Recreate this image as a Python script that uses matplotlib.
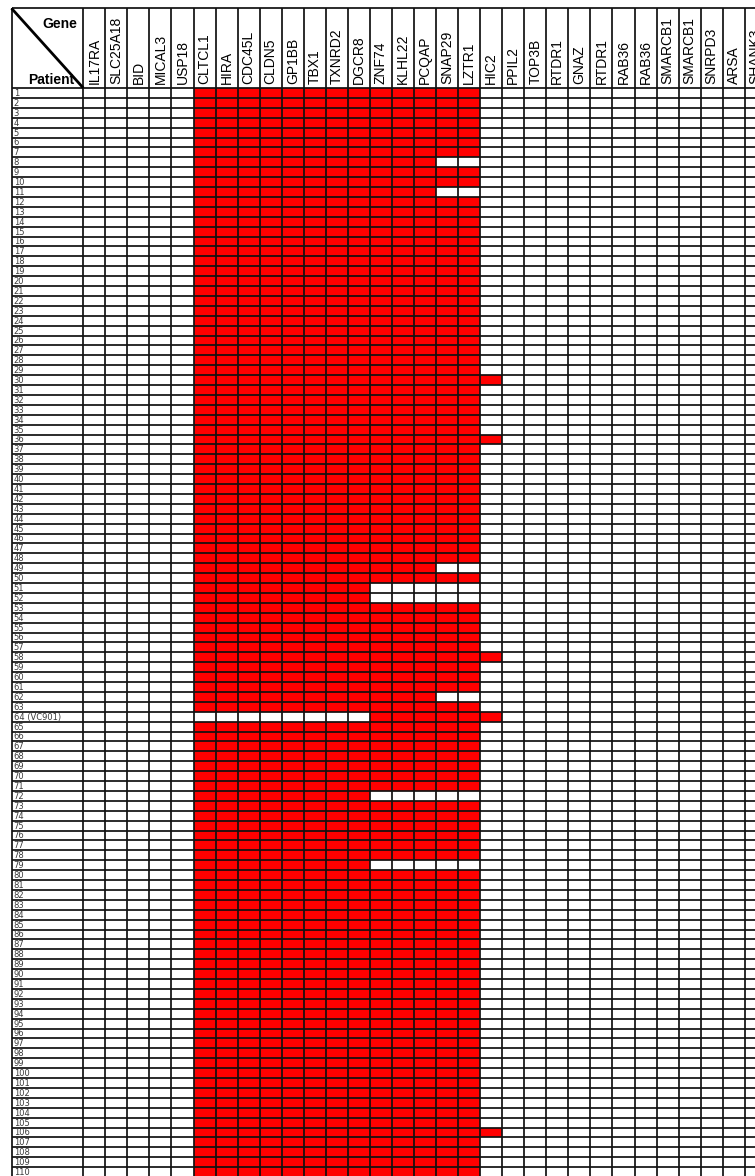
import matplotlib
matplotlib.use("Agg")
import matplotlib.pyplot as plt
import numpy as np
from matplotlib.colors import ListedColormap

plt.rcParams['font.family'] = ['Liberation Sans', 'DejaVu Sans']

# Genes of the 22q11.2 region, proximal to distal
genes = ["IL17RA", "SLC25A18", "BID", "MICAL3", "USP18", "CLTCL1", "HIRA",
         "CDC45L", "CLDN5", "GP1BB", "TBX1", "TXNRD2", "DGCR8", "ZNF74",
         "KLHL22", "PCQAP", "SNAP29", "LZTR1", "HIC2", "PPIL2", "TOP3B",
         "RTDR1", "GNAZ", "RTDR1", "RAB36", "RAB36", "SMARCB1", "SMARCB1",
         "SNRPD3", "ARSA", "SHANK3"]

n_patients = 110
patient_ids = list(range(1, n_patients + 1))
patient_notes = {64: "(VC901)"}

# Deleted interval per patient: common deletion CLTCL1..LZTR1, with exceptions
typical_first = "CLTCL1"
typical_last = "LZTR1"
last_is_PCQAP = [8, 11, 49, 62]
last_is_DGCR8 = [51, 52, 72, 79]
last_is_HIC2 = [30, 36, 58, 64, 106]
first_is_ZNF74 = [64]

first_gene = {p: typical_first for p in patient_ids}
last_gene = {p: typical_last for p in patient_ids}
for p in last_is_PCQAP:
    last_gene[p] = "PCQAP"
for p in last_is_DGCR8:
    last_gene[p] = "DGCR8"
for p in last_is_HIC2:
    last_gene[p] = "HIC2"
for p in first_is_ZNF74:
    first_gene[p] = "ZNF74"

n_genes = len(genes)
deleted = np.zeros((n_patients, n_genes))
for i, p in enumerate(patient_ids):
    a = genes.index(first_gene[p])
    b = genes.index(last_gene[p])
    deleted[i, a:b + 1] = 1

# Figure layout: 1 data unit = one gene column wide / one patient row high
W, H = 755, 1176
col_w, row_h = 22.05, 9.9
grid_x0, grid_y0 = 83.3, 88.0
table_x0, table_y0 = 11.5, 8.3

fig = plt.figure(figsize=(W / 100, H / 100), dpi=100)
ax = fig.add_axes([0, 0, 1, 1])
ax.set_xlim(-grid_x0 / col_w, (W - grid_x0) / col_w)
ax.set_ylim((H - grid_y0) / row_h, -grid_y0 / row_h)
ax.axis("off")

left = (table_x0 - grid_x0) / col_w
top = (table_y0 - grid_y0) / row_h

# Cells
ax.pcolormesh(np.arange(n_genes + 1), np.arange(n_patients + 1), deleted,
              cmap=ListedColormap(["white", "#ff0000"]), vmin=0, vmax=1,
              shading="flat")

lw = 1.25
ax.hlines(np.arange(0, n_patients + 1), left, n_genes, colors="#111111", linewidth=lw)
ax.vlines(np.arange(0, n_genes + 1), top, n_patients, colors="#111111", linewidth=lw)
ax.vlines([left], top, n_patients, colors="#111111", linewidth=lw)
ax.hlines([top], left, n_genes, colors="#111111", linewidth=lw)

# Corner cell
ax.plot([left, 0], [top, 0], color="black", linewidth=2.0, solid_capstyle="butt")
ax.text(-0.29, top + 0.85, "Gene", ha="right", va="top", fontsize=10,
        fontweight="bold")
ax.text(left + 0.75, -0.45, "Patient", ha="left", va="baseline", fontsize=10,
        fontweight="bold")

# Gene labels (the last column runs past the right edge of the sheet)
for j, g in enumerate(genes):
    ax.text(j + 0.5, -0.45, g, rotation=90, ha="center", va="bottom",
            fontsize=10)

# Patient labels
for i, p in enumerate(patient_ids):
    label = str(p)
    if p in patient_notes:
        label += " " + patient_notes[p]
    ax.text(left + 0.1, i + 0.1, label, ha="left", va="top", fontsize=6,
            family="DejaVu Sans", color="#3a3a3a")

fig.savefig("out.png", dpi=100, facecolor="white")
